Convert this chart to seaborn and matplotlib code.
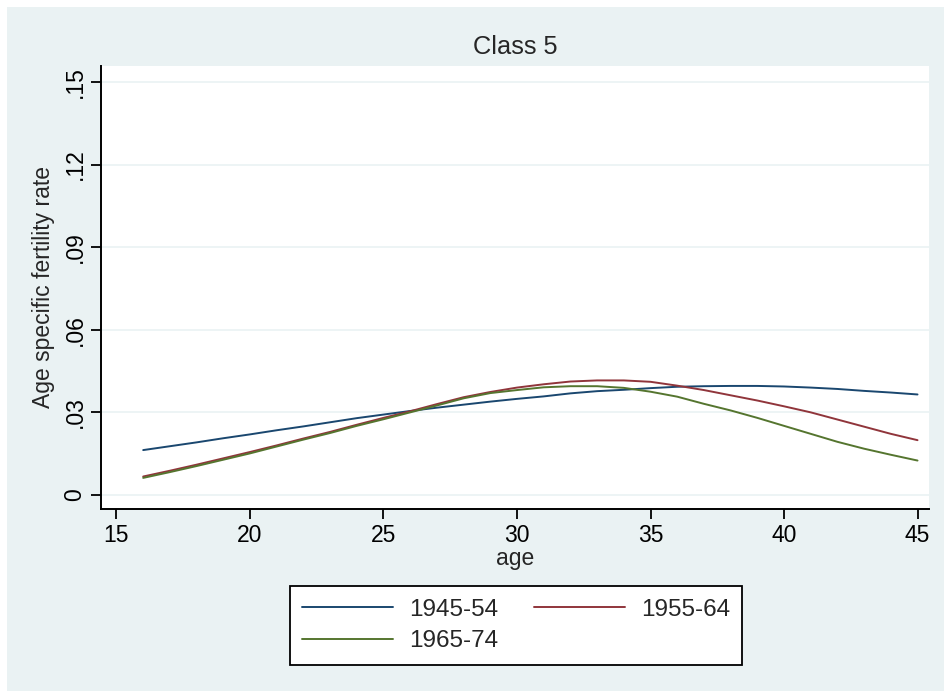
import numpy as np
import pandas as pd
import matplotlib
matplotlib.use("Agg")
import matplotlib.pyplot as plt
import seaborn as sns
from matplotlib.patches import Rectangle

# Smoothed age-specific fertility rates by birth cohort (Class 5)
ages = list(range(16, 46))
rate_1945_54 = [0.0163, 0.0177, 0.0191, 0.0206, 0.0220, 0.0235, 0.0249, 0.0264,
                0.0279, 0.0292, 0.0305, 0.0317, 0.0328, 0.0339, 0.0349, 0.0358,
                0.0369, 0.0377, 0.0382, 0.0388, 0.0393, 0.0395, 0.0396, 0.0396,
                0.0394, 0.0390, 0.0385, 0.0378, 0.0372, 0.0365]
rate_1955_64 = [0.0067, 0.0088, 0.0110, 0.0133, 0.0156, 0.0180, 0.0205, 0.0229,
                0.0255, 0.0280, 0.0304, 0.0330, 0.0355, 0.0374, 0.0390, 0.0402,
                0.0412, 0.0416, 0.0416, 0.0411, 0.0397, 0.0381, 0.0362, 0.0343,
                0.0322, 0.0300, 0.0274, 0.0248, 0.0222, 0.0199]
rate_1965_74 = [0.0062, 0.0083, 0.0105, 0.0128, 0.0151, 0.0176, 0.0201, 0.0225,
                0.0251, 0.0275, 0.0300, 0.0325, 0.0351, 0.0370, 0.0381, 0.0391,
                0.0395, 0.0395, 0.0389, 0.0375, 0.0357, 0.0331, 0.0307, 0.0280,
                0.0251, 0.0222, 0.0193, 0.0168, 0.0146, 0.0125]

cohorts = ["1945-54", "1955-64", "1965-74"]
line_colors = ["#1A476F", "#90353B", "#55752F"]
x_ticks = [15, 20, 25, 30, 35, 40, 45]
y_ticks = [0, 0.03, 0.06, 0.09, 0.12, 0.15]
y_tick_labels = ["0", ".03", ".06", ".09", ".12", ".15"]

df = pd.DataFrame({
    "age": ages * 3,
    "rate": rate_1945_54 + rate_1955_64 + rate_1965_74,
    "cohort": np.repeat(cohorts, len(ages)),
})

sns.set_style("white")
plt.rcParams["font.family"] = ["Liberation Sans", "DejaVu Sans"]

W, H = 944, 691
fig = plt.figure(figsize=(W / 100, H / 100), dpi=100, facecolor="white")
bg = "#EAF2F3"
fig.patches.append(Rectangle((7 / W, 0), 1, 1 - 7 / H, transform=fig.transFigure,
                             facecolor=bg, edgecolor="none", zorder=-10))

ax = fig.add_axes([101 / W, 1 - 509 / H, 828 / W, 443 / H])
ax.set_facecolor("white")

sns.lineplot(data=df, x="age", y="rate", hue="cohort", hue_order=cohorts,
             palette=line_colors, linewidth=1.4, legend=False, ax=ax, zorder=3)

ax.set_xlim(14.42, 45.43)
ax.set_ylim(-0.0051, 0.1558)
ax.set_xticks(x_ticks)
ax.set_yticks(y_ticks)
ax.set_yticklabels(y_tick_labels)

ax.yaxis.grid(True, color=bg, linewidth=1.2)
ax.xaxis.grid(False)
ax.set_axisbelow(True)

for side in ("top", "right"):
    ax.spines[side].set_visible(False)
for side in ("left", "bottom"):
    ax.spines[side].set_color("black")
    ax.spines[side].set_linewidth(1.4)

ax.tick_params(axis="both", direction="out", length=7, width=1.3, color="black",
               labelsize=16.5, labelcolor="black")
ax.tick_params(axis="x", pad=3.5, bottom=True)
ax.tick_params(axis="y", pad=3.5, left=True, labelrotation=90)
for lbl in ax.get_yticklabels():
    lbl.set_va("center")

ax.set_xlabel("age", fontsize=16.5, va="center")
ax.xaxis.set_label_coords(0.5, (509 - 559) / 443)
ax.set_ylabel("Age specific fertility rate", fontsize=16.5, va="center")
ax.yaxis.set_label_coords((44 - 101) / 828, 0.5)

fig.text(515.5 / W, 1 - 47.5 / H, "Class 5", ha="center", va="center", fontsize=18.3)

h = ax.lines[:3]
leg = fig.legend([h[0], h[2], h[1]], [cohorts[0], cohorts[2], cohorts[1]],
                 ncol=2, loc="center", bbox_to_anchor=(516 / W, 1 - 625.5 / H),
                 frameon=True, fancybox=False, edgecolor="black", facecolor="white",
                 framealpha=1, fontsize=17.5, handlelength=3.73, handletextpad=0.66,
                 columnspacing=1.48, labelspacing=0.4, borderpad=0.5)
leg.get_frame().set_linewidth(1.3)

fig.savefig("out.png", dpi=100, facecolor=fig.get_facecolor())
